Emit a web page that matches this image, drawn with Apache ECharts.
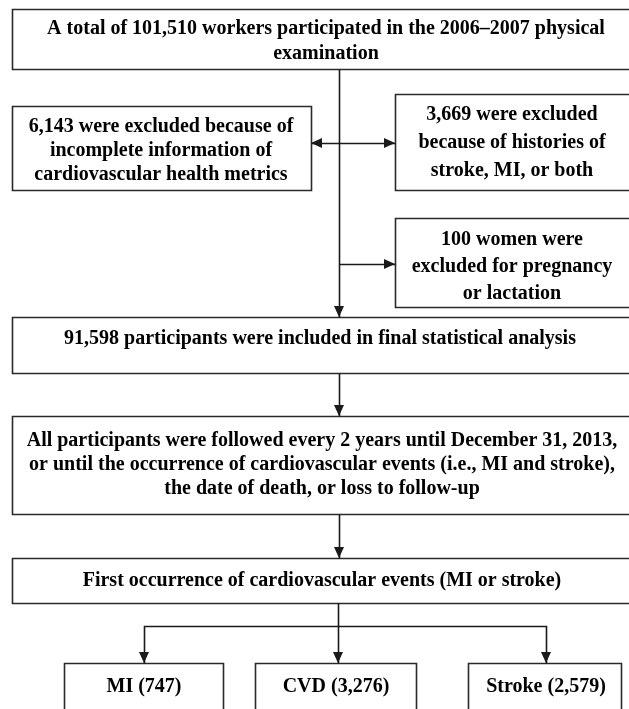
<!DOCTYPE html>
<html>
<head>
<meta charset="utf-8">
<script src="https://cdn.jsdelivr.net/npm/echarts@6/dist/echarts.min.js"></script>
<style>
html,body{margin:0;padding:0;background:#fff;}
#chart{width:629px;height:709px;}
</style>
</head>
<body>
<div id="chart"></div>
<script>
// ---- content (texts) ----
const boxTexts = [
  "A total of 101,510 workers participated in the 2006–2007 physical\nexamination",
  "6,143 were excluded because of\nincomplete information of\ncardiovascular health metrics",
  "3,669 were excluded\nbecause of histories of\nstroke, MI, or both",
  "100 women were\nexcluded for pregnancy\nor lactation",
  "91,598 participants were included in final statistical analysis",
  "All participants were followed every 2 years until December 31, 2013,\nor until the occurrence of cardiovascular events (i.e., MI and stroke),\nthe date of death, or loss to follow-up",
  "First occurrence of cardiovascular events (MI or stroke)"
];
const outcomeNames = ["MI", "CVD", "Stroke"];
const outcomeCounts = [747, 3276, 2579];

// ---- layout (positions in canvas units) ----
// [x0, y0, x1, y1, textX, textY, lineHeight]
const boxLayout = [
  [12, 9, 640, 69, 326, 41, 25],
  [12, 106, 311, 190, 161, 151, 24],
  [395, 94, 640, 190, 512, 143, 28],
  [395, 218, 640, 307, 512, 267, 27],
  [12, 317, 640, 373, 320, 339, 24],
  [12, 416, 640, 514, 322, 465, 24],
  [12, 558, 640, 603, 322, 581, 24]
];
const outcomeLayout = [
  [64, 663, 223, 730, 144, 687],
  [255, 663, 416, 730, 336, 687],
  [468, 663, 621, 730, 546, 687]
];
// connectors: polyline points, arrow at start?, arrow at end?
const connectors = [
  {pts: [[339, 69], [339, 317]], s: false, e: true},
  {pts: [[311, 143], [395, 143]], s: true, e: true},
  {pts: [[339, 264], [395, 264]], s: false, e: true},
  {pts: [[339, 373], [339, 416]], s: false, e: true},
  {pts: [[339, 514], [339, 558]], s: false, e: true},
  {pts: [[338, 603], [338, 663]], s: false, e: true},
  {pts: [[144, 663], [144, 626], [546, 626], [546, 663]], s: true, e: true}
];

function fmt(n){ return n.toLocaleString('en-US'); }
const outcomeTexts = outcomeNames.map((n, i) => n + " (" + fmt(outcomeCounts[i]) + ")");

const FONT = 'bold 20px "Liberation Serif", "Times New Roman", serif';
const INK = '#1a1a1a';

const allBoxes = boxLayout.map((b, i) => ({l: b, t: boxTexts[i]}))
  .concat(outcomeLayout.map((b, i) => ({l: b.concat([24]), t: outcomeTexts[i]})));

const chart = echarts.init(document.getElementById('chart'), null, {renderer: 'canvas'});

function arrowHead(api, p, q) {
  const a = api.coord(p), b = api.coord(q);
  const dx = b[0] - a[0], dy = b[1] - a[1];
  const len = Math.sqrt(dx * dx + dy * dy) || 1;
  const ux = dx / len, uy = dy / len;
  const L = 11, W = 5;
  const bx = b[0] - ux * L, by = b[1] - uy * L;
  return {
    type: 'polygon',
    shape: {points: [[b[0], b[1]], [bx - uy * W, by + ux * W], [bx + uy * W, by - ux * W]]},
    style: {fill: INK}
  };
}

chart.setOption({
  animation: false,
  backgroundColor: '#fff',
  grid: {left: 0, right: 0, top: 0, bottom: 0},
  xAxis: {type: 'value', min: 0, max: 629, show: false},
  yAxis: {type: 'value', min: 0, max: 709, inverse: true, show: false},
  series: [
    {
      type: 'custom',
      clip: false,
      data: allBoxes.map((b, i) => [i]),
      renderItem: function (params, api) {
        const b = allBoxes[params.dataIndex];
        const l = b.l;
        const p0 = api.coord([l[0], l[1]]);
        const p1 = api.coord([l[2], l[3]]);
        const tc = api.coord([l[4], l[5]]);
        return {
          type: 'group',
          children: [
            {
              type: 'rect',
              shape: {x: Math.round(p0[0]) + 0.5, y: Math.round(p0[1]) + 0.5, width: p1[0] - p0[0], height: p1[1] - p0[1]},
              style: {fill: '#fff', stroke: '#2a2a2a', lineWidth: 1.6}
            },
            {
              type: 'text',
              x: tc[0], y: tc[1],
              style: {
                text: b.t, font: FONT, fill: '#000',
                align: 'center', verticalAlign: 'middle',
                lineHeight: l[6]
              }
            }
          ]
        };
      }
    },
    {
      type: 'custom',
      clip: false,
      data: connectors.map((c, i) => [i]),
      renderItem: function (params, api) {
        const c = connectors[params.dataIndex];
        const pts = c.pts.map(p => api.coord(p));
        const children = [{
          type: 'polyline',
          shape: {points: pts.map(p => [Math.round(p[0]) + 0.5, Math.round(p[1]) + 0.5])},
          style: {stroke: INK, lineWidth: 1.6, fill: null}
        }];
        const n = c.pts.length;
        if (c.e) children.push(arrowHead(api, c.pts[n - 2], c.pts[n - 1]));
        if (c.s) children.push(arrowHead(api, c.pts[1], c.pts[0]));
        return {type: 'group', children: children};
      }
    }
  ]
});
</script>
</body>
</html>
